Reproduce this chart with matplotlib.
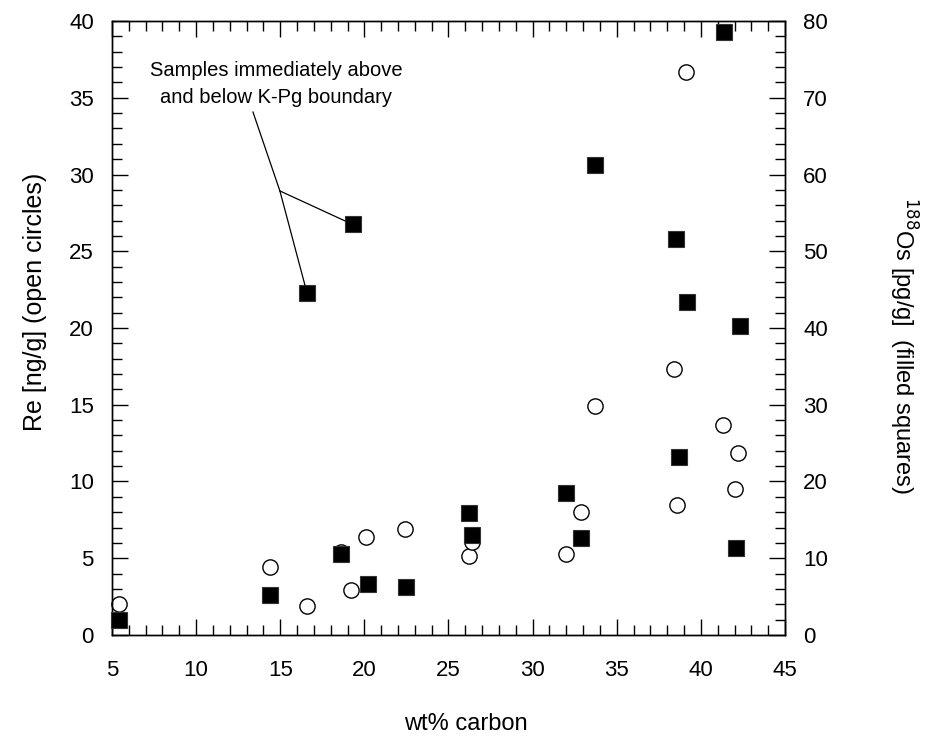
# ----------------------------------------------------------------------------------------------------------------------
# IMPORT GENERAL PACKAGES
# ----------------------------------------------------------------------------------------------------------------------

import matplotlib
matplotlib.use('Agg')
import matplotlib.pyplot as plt
from matplotlib.ticker import MultipleLocator

plt.rcParams['font.family'] = ['Liberation Sans', 'DejaVu Sans']

# ----------------------------------------------------------------------------------------------------------------------
# DATA
# ----------------------------------------------------------------------------------------------------------------------

# Re (ng/g), open circles, left axis
re_carbon = [5.4, 14.4, 16.6, 18.6, 19.2, 20.1, 22.4, 26.2, 26.4, 32.0, 32.9, 33.7, 38.4, 38.6, 39.1, 41.3, 42.0, 42.2]
re_conc = [2.0, 4.4, 1.9, 5.4, 2.95, 6.4, 6.9, 5.15, 6.05, 5.3, 8.0, 14.95, 17.3, 8.5, 36.65, 13.7, 9.5, 11.85]

# 188Os (pg/g), filled squares, right axis
os_carbon = [5.4, 14.4, 16.6, 18.6, 19.3, 20.2, 22.5, 26.2, 26.4, 32.0, 32.9, 33.7, 38.5, 38.7, 39.2, 41.4, 42.1, 42.3]
os_conc = [2.0, 5.2, 44.5, 10.6, 53.5, 6.7, 6.2, 15.9, 13.0, 18.5, 12.7, 61.2, 51.6, 23.2, 43.4, 78.6, 11.3, 40.2]

# samples either side of the K-Pg boundary (index into the Os series)
kpg_idx = [2, 4]

x_ticks = [5, 10, 15, 20, 25, 30, 35, 40, 45]
re_ticks = [0, 5, 10, 15, 20, 25, 30, 35, 40]
os_ticks = [0, 10, 20, 30, 40, 50, 60, 70, 80]

# ----------------------------------------------------------------------------------------------------------------------
# PLOT
# ----------------------------------------------------------------------------------------------------------------------

fs_tick = 16
fs_lab = 17
f = plt.figure(figsize=(9.3, 7.38), dpi=100)
ax1 = f.add_axes([0.1204, 0.1396, 0.7237, 0.8319])
ax2 = ax1.twinx()

# Re -------------------------------------------------------------------------------------------------------------------
ax1.plot(re_carbon, re_conc, linestyle='none', marker='o', markersize=11, markerfacecolor='white',
         markeredgecolor='black', markeredgewidth=1.0, zorder=2, clip_on=False)
ax1.set_xlim([5, 45])
ax1.set_ylim([0, 40])
ax1.set_xticks(x_ticks)
ax1.set_yticks(re_ticks)
ax1.xaxis.set_minor_locator(MultipleLocator(1))
ax1.yaxis.set_minor_locator(MultipleLocator(1))
ax1.tick_params(which='both', direction='in', top=True, bottom=True, left=True, right=False, width=1.0, color='black')
ax1.tick_params(which='major', length=11.5, labelsize=fs_tick)
ax1.tick_params(which='minor', length=7)
ax1.tick_params(axis='x', which='major', pad=18)
ax1.tick_params(axis='y', which='major', pad=13)
ax1.set_xlabel('wt% carbon', fontsize=fs_lab, va='center')
ax1.xaxis.set_label_coords(0.526, -0.145)
ax1.set_ylabel('Re [ng/g] (open circles)', fontsize=18, va='center')
ax1.yaxis.set_label_coords(-0.114, 0.542)

# Os -------------------------------------------------------------------------------------------------------------------
ax2.plot(os_carbon, os_conc, linestyle='none', marker='s', markersize=11.5, markerfacecolor='black',
         markeredgecolor='#333333', markeredgewidth=0.8, zorder=3, clip_on=False)
ax2.set_ylim([0, 80])
ax2.set_yticks(os_ticks)
ax2.yaxis.set_minor_locator(MultipleLocator(2))
ax2.tick_params(which='both', direction='in', right=True, left=False, width=1.0, color='black')
ax2.tick_params(which='major', length=11.5, labelsize=fs_tick, pad=13)
ax2.tick_params(which='minor', length=7)
ax2.set_ylabel(r'$^{188}$Os [pg/g]  (filled squares)', fontsize=fs_lab, rotation=270, va='center')
ax2.yaxis.set_label_coords(1.175, 0.472)

for ax in (ax1, ax2):
    for sp in ax.spines.values():
        sp.set_linewidth(1.0)

# K-Pg boundary callout ------------------------------------------------------------------------------------------------
ax1.text(14.75, 35.9, 'Samples immediately above\nand below K-Pg boundary', ha='center', va='center',
         fontsize=14.5, linespacing=1.5)
jx, jy = 14.98, 28.93
ax1.plot([13.38, jx], [34.07, jy], color='black', linewidth=0.9)
for i in kpg_idx:
    ax2.annotate('', xy=(os_carbon[i], os_conc[i]), xytext=(jx, jy * 2),
                 arrowprops=dict(arrowstyle='-', color='black', linewidth=0.9, shrinkA=0, shrinkB=6))

plt.savefig('out.png', dpi=100)
